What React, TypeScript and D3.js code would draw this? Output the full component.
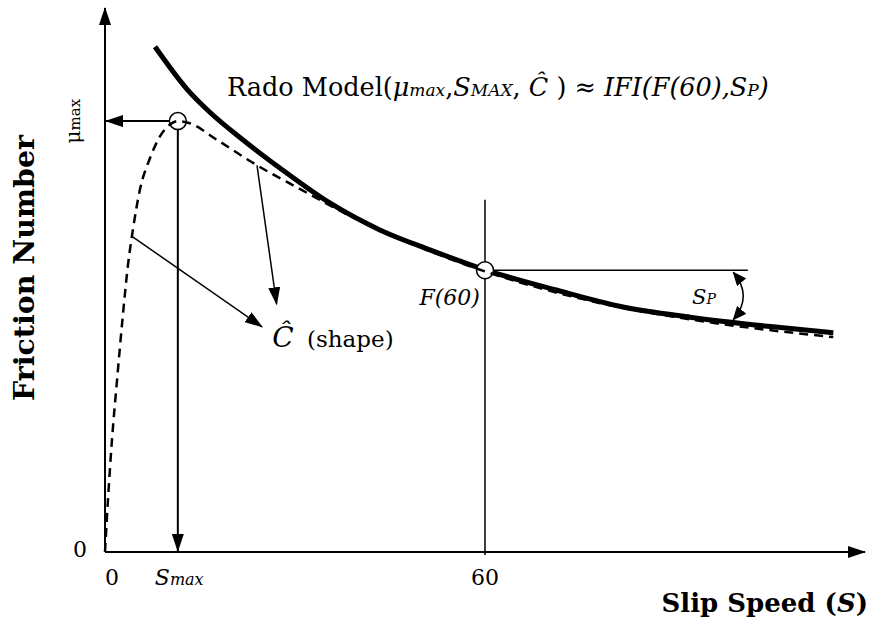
import React from 'react';
import * as d3 from 'd3';

const W = 870;
const H = 620;

// Rado model curve (solid) and measured/shape curve (dashed): slip speed S vs friction number
const solidS = [7.9, 12.9, 16.6, 21.8, 27.6, 35.5, 43.4, 51.3, 60, 71.4, 81.8, 92.4, 105.5, 115];
const solidF = [0.938, 0.86, 0.816, 0.765, 0.713, 0.648, 0.598, 0.561, 0.524, 0.486, 0.455, 0.436, 0.418, 0.407];
const dashedS = [0, 0.47, 1.1, 1.9, 2.84, 3.63, 4.4, 5.5, 7.1, 8.7, 10.3, 11.5, 13.4, 17.7, 24.0, 30.3, 38.7, 49.7, 60, 78.2, 94, 115];
const dashedF = [0, 0.097, 0.208, 0.319, 0.442, 0.533, 0.598, 0.672, 0.731, 0.772, 0.794, 0.8, 0.796, 0.765, 0.718, 0.677, 0.624, 0.566, 0.521, 0.462, 0.429, 0.399];

// key values
const muMax = 0.8;
const sMax = 11.5;
const s60 = 60;
const f60 = 0.523;
const xMax = 120;
const yMax = 1.01;

const FONT = '"DejaVu Serif", "Liberation Serif", serif';

export default function App() {
  const x = d3.scaleLinear().domain([0, xMax]).range([105, 865]);
  const y = d3.scaleLinear().domain([0, yMax]).range([552, 8]);

  const solidPts: [number, number][] = solidS.map((s, i) => [s, solidF[i]]);
  const dashedPts: [number, number][] = dashedS.map((s, i) => [s, dashedF[i]]);
  const line = d3
    .line<[number, number]>()
    .x((d) => x(d[0]))
    .y((d) => y(d[1]))
    .curve(d3.curveMonotoneX);

  // S_P arc between F(60) level and the curve
  const spS = 99.2;
  const spTop = y(f60) + 2;
  const spBot = y(0.431);
  const spMid = (spTop + spBot) / 2;
  const arcPath = `M${x(spS)},${spTop} Q${x(spS) + 20},${spMid} ${x(spS)},${spBot}`;

  return (
    <svg
      width={W}
      height={H}
      viewBox={`0 0 ${W} ${H}`}
      style={{ position: 'absolute', left: 0, top: 0, background: '#fff' }}
    >
      <defs>
        <marker id="ah" viewBox="0 0 18 12" refX="17" refY="6" markerWidth="18" markerHeight="12"
          markerUnits="userSpaceOnUse" orient="auto-start-reverse">
          <path d="M0,0L18,6L0,12Z" fill="#000" />
        </marker>
        <marker id="ahs" viewBox="0 0 14 12" refX="13" refY="6" markerWidth="14" markerHeight="12"
          markerUnits="userSpaceOnUse" orient="auto-start-reverse">
          <path d="M0,0L14,6L0,12Z" fill="#000" />
        </marker>
      </defs>
      <rect x={0} y={0} width={W} height={H} fill="#fff" />

      {/* axes */}
      <line x1={x(0)} y1={y(0)} x2={x(0)} y2={y(yMax)} stroke="#000" strokeWidth={2} markerEnd="url(#ah)" />
      <line x1={x(0)} y1={y(0)} x2={x(xMax)} y2={y(0)} stroke="#000" strokeWidth={2} markerEnd="url(#ah)" />

      {/* F(60) guides */}
      <line x1={x(s60)} y1={y(0.654)} x2={x(s60)} y2={y(0) + 3} stroke="#000" strokeWidth={1.5} />
      <line x1={x(s60)} y1={y(f60)} x2={x(101.5)} y2={y(f60)} stroke="#000" strokeWidth={1.5} />

      {/* S_P double arrow */}
      <path d={arcPath} fill="none" stroke="#000" strokeWidth={1.5} markerStart="url(#ahs)" markerEnd="url(#ahs)" />

      {/* mu max and S max arrows */}
      <line x1={x(sMax)} y1={y(muMax)} x2={x(0) + 1} y2={y(muMax)} stroke="#000" strokeWidth={2} markerEnd="url(#ah)" />
      <line x1={x(sMax)} y1={y(muMax)} x2={x(sMax)} y2={y(0) - 1} stroke="#000" strokeWidth={2} markerEnd="url(#ah)" />

      {/* shape arrows */}
      <line x1={x(24.0)} y1={y(0.718)} x2={x(27.1)} y2={y(0.46)} stroke="#000" strokeWidth={1.5} markerEnd="url(#ah)" />
      <line x1={x(4.26)} y1={y(0.586)} x2={x(24.8)} y2={y(0.418)} stroke="#000" strokeWidth={1.5} markerEnd="url(#ah)" />

      {/* solid Rado curve */}
      <path d={line(solidPts) || ''} fill="none" stroke="#000" strokeWidth={5} strokeLinecap="butt" />

      {/* circles */}
      <circle cx={x(sMax)} cy={y(muMax)} r={8.5} fill="#fff" stroke="#000" strokeWidth={1.5} />
      <circle cx={x(s60)} cy={y(f60)} r={8.5} fill="#fff" stroke="#000" strokeWidth={1.5} />

      {/* dashed curve */}
      <path d={line(dashedPts) || ''} fill="none" stroke="#000" strokeWidth={2.5} strokeDasharray="9,6" />

      {/* title */}
      <text x={227} y={96} fontFamily={FONT} fontSize={25.5} fill="#000">
        <tspan>Rado Model(</tspan>
        <tspan fontStyle="italic">μ</tspan>
        <tspan fontStyle="italic" fontSize={17}>max</tspan>
        <tspan>,</tspan>
        <tspan fontStyle="italic">S</tspan>
        <tspan fontStyle="italic" fontSize={17}>MAX</tspan>
        <tspan>, </tspan>
        <tspan fontStyle="italic">Ĉ</tspan>
        <tspan> ) ≈ </tspan>
        <tspan fontStyle="italic">IFI(F(60),S</tspan>
        <tspan fontStyle="italic" fontSize={17}>P</tspan>
        <tspan fontStyle="italic">)</tspan>
      </text>

      {/* annotations */}
      <text x={x(59.2)} y={y(0.459)} textAnchor="end" fontFamily={FONT} fontSize={22} fontStyle="italic">F(60)</text>
      <text x={x(92.7)} y={y(0.46)} fontFamily={FONT} fontSize={21} fontStyle="italic">
        <tspan>S</tspan>
        <tspan fontSize={14}>P</tspan>
      </text>
      <text x={x(26.4)} y={y(0.381)} fontFamily={FONT} fontSize={28} fontStyle="italic">Ĉ</text>
      <text x={307} y={y(0.381)} fontFamily={FONT} fontSize={23}>(shape)</text>

      {/* y tick labels */}
      <text transform={`translate(80,${y(muMax)}) rotate(-90)`} textAnchor="middle" fontFamily={FONT} fontSize={20}>
        <tspan>μ</tspan>
        <tspan fontSize={15}>max</tspan>
      </text>
      <text x={80} y={y(0) + 5} textAnchor="middle" fontFamily={FONT} fontSize={22}>0</text>

      {/* x tick labels */}
      <text x={x(0) + 7} y={585} textAnchor="middle" fontFamily={FONT} fontSize={22}>0</text>
      <text x={x(sMax) - 23} y={585} fontFamily={FONT} fontSize={22} fontStyle="italic">
        <tspan>S</tspan>
        <tspan fontSize={16}>max</tspan>
      </text>
      <text x={x(s60)} y={585} textAnchor="middle" fontFamily={FONT} fontSize={22}>60</text>

      {/* axis titles */}
      <text x={868} y={612} textAnchor="end" fontFamily={FONT} fontSize={26} fontWeight="bold">
        <tspan>Slip Speed (</tspan>
        <tspan fontStyle="italic">S</tspan>
        <tspan>)</tspan>
      </text>
      <text transform="translate(34,268) rotate(-90)" textAnchor="middle" fontFamily={FONT} fontSize={28}
        fontWeight="bold" textLength={266} lengthAdjust="spacingAndGlyphs">
        Friction Number
      </text>
    </svg>
  );
}
